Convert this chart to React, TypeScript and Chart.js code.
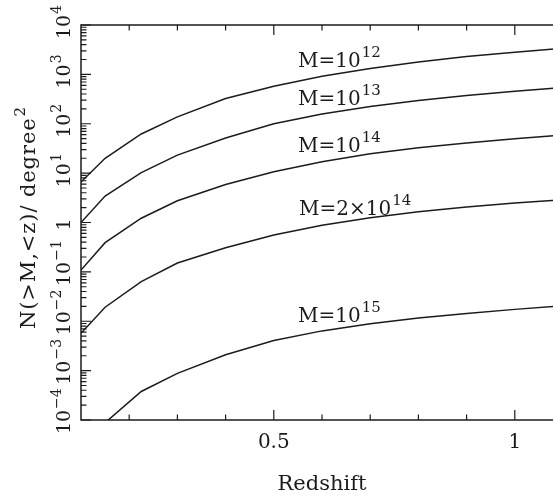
import React, { useEffect, useRef } from 'react';
import { Chart, registerables } from 'chart.js';

Chart.register(...registerables);

// ---- data ----
const redshift = [0.1, 0.15, 0.225, 0.3, 0.4, 0.5, 0.6, 0.7, 0.8, 0.9, 1.0, 1.1];
const nM1e12 = [6.6, 20, 62, 138, 324, 575, 912, 1318, 1778, 2291, 2818, 3388];
const nM1e13 = [1.0, 3.44, 10.2, 23.2, 51.3, 100, 158, 224, 295, 372, 457, 543];
const nM1e14 = [0.109, 0.39, 1.22, 2.75, 5.9, 10.7, 17.0, 24.6, 32.8, 40.8, 49.7, 59];
const nM2e14 = [0.0057, 0.0192, 0.0633, 0.151, 0.307, 0.56, 0.877, 1.253, 1.652, 2.056, 2.472, 2.897];
const nM1e15 = [null, 8.8e-5, 3.78e-4, 8.8e-4, 2.09e-3, 4.07e-3, 6.38e-3, 8.91e-3, 0.0116, 0.0143, 0.0174, 0.0207];

const seriesNames = ['M=10^12', 'M=10^13', 'M=10^14', 'M=2x10^14', 'M=10^15'];
const seriesValues = [nM1e12, nM1e13, nM1e14, nM2e14, nM1e15];

// curve labels: base text, exponent, anchor in data coordinates (redshift, N)
const labelBases = ['M=10', 'M=10', 'M=10', 'M=2\u00d710', 'M=10'];
const labelExps = ['12', '13', '14', '14', '15'];
const labelZ = [0.5504, 0.5504, 0.5504, 0.5525, 0.5504];
const labelN = [1406, 239, 26.7, 1.42, 0.0097];

// axis ticks
const xLabelTicks = [0.5, 1];
const xMinorTicks = [0.2, 0.3, 0.4, 0.6, 0.7, 0.8, 0.9];
const yDecades = [-4, -3, -2, -1, 0, 1, 2, 3, 4];
const yMinorMultipliers = [2, 3, 4, 5, 6, 7, 8, 9];

const xTitle = 'Redshift';
const yTitleBase = 'N(>M,<z)/ degree';
const yTitleExp = '2';

const FONT = '"DejaVu Serif", serif';
const INK = '#1b1b1b';

const framePlugin = {
  id: 'frame',
  afterDatasetsDraw(chart: any) {
    const ctx = chart.ctx as CanvasRenderingContext2D;
    const { left, right, top, bottom } = chart.chartArea;
    const xs = chart.scales.x;
    const ys = chart.scales.y;
    ctx.save();
    ctx.strokeStyle = INK;
    ctx.fillStyle = INK;

    // frame
    ctx.lineWidth = 1.5;
    ctx.strokeRect(left, top, right - left, bottom - top);

    // inward ticks
    ctx.lineWidth = 1.2;
    const MAJ = 10;
    const MIN = 5.5;
    const hTick = (v: number, len: number) => {
      const px = xs.getPixelForValue(v);
      ctx.beginPath();
      ctx.moveTo(px, bottom);
      ctx.lineTo(px, bottom - len);
      ctx.moveTo(px, top);
      ctx.lineTo(px, top + len);
      ctx.stroke();
    };
    xLabelTicks.forEach((v) => hTick(v, MAJ));
    xMinorTicks.forEach((v) => hTick(v, MIN));
    const vTick = (v: number, len: number) => {
      const py = ys.getPixelForValue(v);
      ctx.beginPath();
      ctx.moveTo(left, py);
      ctx.lineTo(left + len, py);
      ctx.moveTo(right, py);
      ctx.lineTo(right - len, py);
      ctx.stroke();
    };
    yDecades.forEach((k) => {
      vTick(Math.pow(10, k), MAJ);
      if (k < 4) yMinorMultipliers.forEach((m) => vTick(m * Math.pow(10, k), MIN));
    });

    // y tick labels (rotated)
    ctx.textBaseline = 'alphabetic';
    ctx.textAlign = 'left';
    yDecades.forEach((k) => {
      const py = ys.getPixelForValue(Math.pow(10, k));
      ctx.save();
      ctx.translate(70, py + 2);
      ctx.rotate(-Math.PI / 2);
      if (k === 0) {
        ctx.font = `19px ${FONT}`;
        const w = ctx.measureText('1').width;
        ctx.fillText('1', -w / 2, 0);
      } else {
        ctx.font = `19px ${FONT}`;
        const w = ctx.measureText('10').width;
        ctx.fillText('10', -w / 2, 0);
        ctx.font = `14px ${FONT}`;
        const e = k < 0 ? '\u2212' + String(-k) : String(k);
        ctx.fillText(e, w / 2 + 1, -9);
      }
      ctx.restore();
    });

    // y title (rotated)
    ctx.save();
    (ctx as any).letterSpacing = '0.9px';
    ctx.font = `21px ${FONT}`;
    const wb = ctx.measureText(yTitleBase).width;
    ctx.font = `15px ${FONT}`;
    const we = ctx.measureText(yTitleExp).width;
    const total = wb + 1 + we;
    ctx.translate(35, 217.5);
    ctx.rotate(-Math.PI / 2);
    ctx.font = `21px ${FONT}`;
    ctx.fillText(yTitleBase, -total / 2, 0);
    ctx.font = `15px ${FONT}`;
    ctx.fillText(yTitleExp, -total / 2 + wb + 1, -10);
    ctx.restore();

    // curve labels
    labelBases.forEach((b, i) => {
      const px = xs.getPixelForValue(labelZ[i]);
      const py = ys.getPixelForValue(labelN[i]);
      ctx.font = `20px ${FONT}`;
      ctx.fillText(b, px, py);
      const w = ctx.measureText(b).width;
      ctx.font = `15px ${FONT}`;
      ctx.fillText(labelExps[i], px + w + 1, py - 10);
    });

    ctx.restore();
  },
};

export default function App() {
  const ref = useRef<HTMLCanvasElement | null>(null);

  useEffect(() => {
    if (!ref.current) return;
    const chart = new Chart(ref.current, {
      type: 'line',
      data: {
        datasets: seriesValues.map((vals, si) => ({
          label: seriesNames[si],
          data: redshift.map((z, i) => ({ x: z, y: vals[i] })),
          borderColor: INK,
          backgroundColor: INK,
          borderWidth: 1.5,
          pointRadius: 0,
          tension: 0,
          fill: false,
          spanGaps: false,
        })),
      },
      options: {
        responsive: false,
        animation: false,
        events: [],
        layout: { padding: { top: 25, left: 0, right: 0, bottom: 0 } },
        plugins: {
          legend: { display: false },
          tooltip: { enabled: false },
          title: { display: false },
        },
        scales: {
          x: {
            type: 'linear',
            min: 0.1,
            max: 1.1,
            grid: { display: false, drawTicks: false },
            border: { display: false },
            afterBuildTicks: (s: any) => {
              s.ticks = xLabelTicks.map((v) => ({ value: v }));
            },
            afterFit: (s: any) => {
              s.height = 78;
            },
            ticks: {
              font: { family: FONT, size: 20 },
              color: INK,
              padding: 11,
              maxRotation: 0,
              autoSkip: false,
              callback: (v: any) => String(v),
            },
            title: {
              display: true,
              text: xTitle,
              font: { family: FONT, size: 21 },
              color: INK,
              padding: { top: 0, bottom: 1 },
            },
          },
          y: {
            type: 'logarithmic',
            min: 1e-4,
            max: 1e4,
            grid: { display: false, drawTicks: false },
            border: { display: false },
            ticks: { display: false },
            afterFit: (s: any) => {
              s.width = 81;
            },
          },
        },
      } as any,
      plugins: [framePlugin],
    });
    return () => chart.destroy();
  }, []);

  return (
    <div
      style={{
        position: 'fixed',
        left: 0,
        top: 0,
        width: '553px',
        height: '498px',
        overflow: 'hidden',
        background: '#ffffff',
      }}
    >
      <canvas ref={ref} width={563} height={498} style={{ display: 'block' }} />
    </div>
  );
}
